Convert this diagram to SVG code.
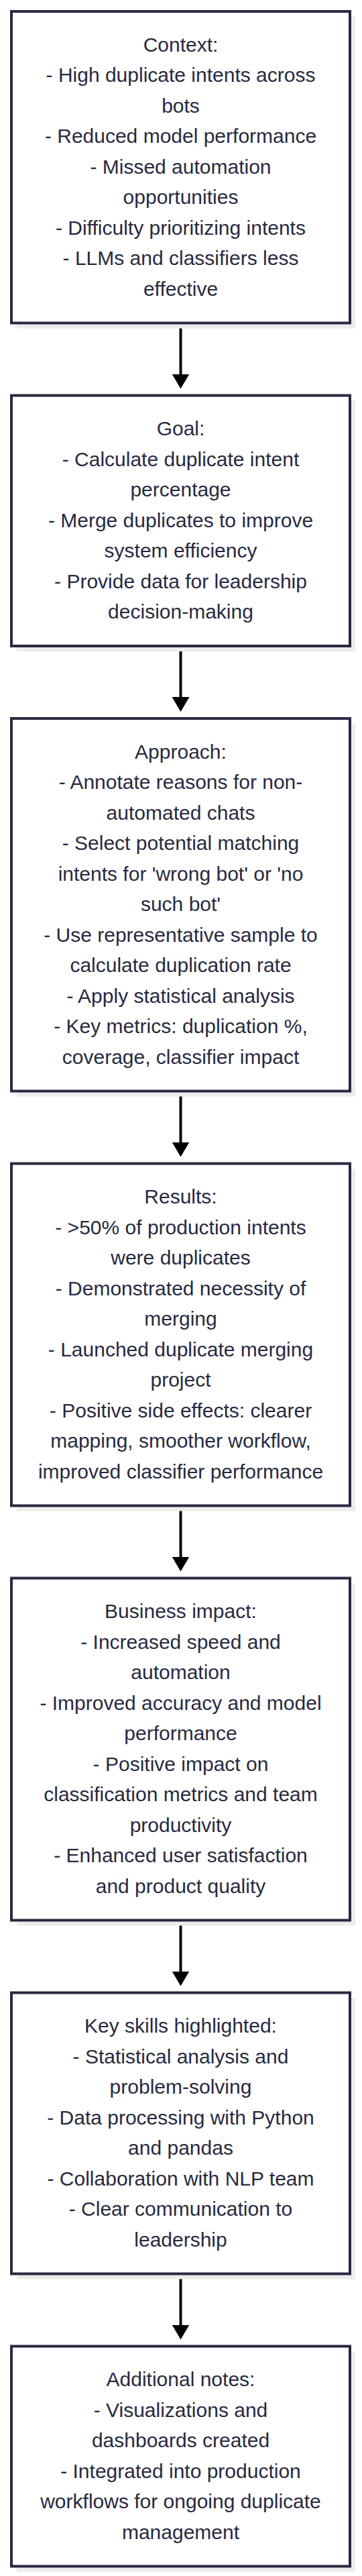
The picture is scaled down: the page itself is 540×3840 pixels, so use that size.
<svg xmlns="http://www.w3.org/2000/svg" width="540" height="3840" viewBox="0 0 540 3840">
<style>
.shadow{fill:#ececec;stroke:none}
.box{fill:#ffffff;stroke:#272a40;stroke-width:4}
.lbl{font-family:"Liberation Sans",Arial,sans-serif;font-size:30px;fill:#272a40;text-anchor:middle}
.edge{stroke:#000000;stroke-width:4;fill:none;marker-end:url(#arr)}
</style>
<defs>
<marker id="arr" markerUnits="userSpaceOnUse" viewBox="0 0 22 26" markerWidth="22" markerHeight="26" refX="4" refY="13" orient="auto">
<path d="M0,0 L22,13 L0,26 Z" fill="#000000"/>
</marker>
</defs>
<rect width="540" height="3840" fill="#ffffff"/>
<g id="connectors">
<line class="edge" x1="269.5" y1="483.5" x2="269.5" y2="561.5"/>
<line class="edge" x1="269.5" y1="965" x2="269.5" y2="1043"/>
<line class="edge" x1="269.5" y1="1628.5" x2="269.5" y2="1706.5"/>
<line class="edge" x1="269.5" y1="2246.5" x2="269.5" y2="2324.5"/>
<line class="edge" x1="269.5" y1="2864.5" x2="269.5" y2="2942.5"/>
<line class="edge" x1="269.5" y1="3391.5" x2="269.5" y2="3469.5"/>
</g>
<g id="context">
<rect class="shadow" x="25" y="25" width="505" height="464.5"/>
<rect class="box" x="17" y="17" width="505" height="464.5"/>
<text class="lbl" y="76.5"><tspan x="269.5">Context:</tspan><tspan x="269.5" dy="45.5">- High duplicate intents across</tspan><tspan x="269.5" dy="45.5">bots</tspan><tspan x="269.5" dy="45.5">- Reduced model performance</tspan><tspan x="269.5" dy="45.5">- Missed automation</tspan><tspan x="269.5" dy="45.5">opportunities</tspan><tspan x="269.5" dy="45.5">- Difficulty prioritizing intents</tspan><tspan x="269.5" dy="45.5">- LLMs and classifiers less</tspan><tspan x="269.5" dy="45.5">effective</tspan></text>
</g>
<g id="goal">
<rect class="shadow" x="25" y="597.5" width="505" height="373.5"/>
<rect class="box" x="17" y="589.5" width="505" height="373.5"/>
<text class="lbl" y="649"><tspan x="269.5">Goal:</tspan><tspan x="269.5" dy="45.5">- Calculate duplicate intent</tspan><tspan x="269.5" dy="45.5">percentage</tspan><tspan x="269.5" dy="45.5">- Merge duplicates to improve</tspan><tspan x="269.5" dy="45.5">system efficiency</tspan><tspan x="269.5" dy="45.5">- Provide data for leadership</tspan><tspan x="269.5" dy="45.5">decision-making</tspan></text>
</g>
<g id="approach">
<rect class="shadow" x="25" y="1079" width="505" height="555.5"/>
<rect class="box" x="17" y="1071" width="505" height="555.5"/>
<text class="lbl" y="1130.5"><tspan x="269.5">Approach:</tspan><tspan x="269.5" dy="45.5">- Annotate reasons for non-</tspan><tspan x="269.5" dy="45.5">automated chats</tspan><tspan x="269.5" dy="45.5">- Select potential matching</tspan><tspan x="269.5" dy="45.5">intents for 'wrong bot' or 'no</tspan><tspan x="269.5" dy="45.5">such bot'</tspan><tspan x="269.5" dy="45.5">- Use representative sample to</tspan><tspan x="269.5" dy="45.5">calculate duplication rate</tspan><tspan x="269.5" dy="45.5">- Apply statistical analysis</tspan><tspan x="269.5" dy="45.5">- Key metrics: duplication %,</tspan><tspan x="269.5" dy="45.5">coverage, classifier impact</tspan></text>
</g>
<g id="results">
<rect class="shadow" x="25" y="1742.5" width="505" height="510"/>
<rect class="box" x="17" y="1734.5" width="505" height="510"/>
<text class="lbl" y="1794"><tspan x="269.5">Results:</tspan><tspan x="269.5" dy="45.5">- &gt;50% of production intents</tspan><tspan x="269.5" dy="45.5">were duplicates</tspan><tspan x="269.5" dy="45.5">- Demonstrated necessity of</tspan><tspan x="269.5" dy="45.5">merging</tspan><tspan x="269.5" dy="45.5">- Launched duplicate merging</tspan><tspan x="269.5" dy="45.5">project</tspan><tspan x="269.5" dy="45.5">- Positive side effects: clearer</tspan><tspan x="269.5" dy="45.5">mapping, smoother workflow,</tspan><tspan x="269.5" dy="45.5">improved classifier performance</tspan></text>
</g>
<g id="business_impact">
<rect class="shadow" x="25" y="2360.5" width="505" height="510"/>
<rect class="box" x="17" y="2352.5" width="505" height="510"/>
<text class="lbl" y="2412"><tspan x="269.5">Business impact:</tspan><tspan x="269.5" dy="45.5">- Increased speed and</tspan><tspan x="269.5" dy="45.5">automation</tspan><tspan x="269.5" dy="45.5">- Improved accuracy and model</tspan><tspan x="269.5" dy="45.5">performance</tspan><tspan x="269.5" dy="45.5">- Positive impact on</tspan><tspan x="269.5" dy="45.5">classification metrics and team</tspan><tspan x="269.5" dy="45.5">productivity</tspan><tspan x="269.5" dy="45.5">- Enhanced user satisfaction</tspan><tspan x="269.5" dy="45.5">and product quality</tspan></text>
</g>
<g id="key_skills">
<rect class="shadow" x="25" y="2978.5" width="505" height="419"/>
<rect class="box" x="17" y="2970.5" width="505" height="419"/>
<text class="lbl" y="3030"><tspan x="269.5">Key skills highlighted:</tspan><tspan x="269.5" dy="45.5">- Statistical analysis and</tspan><tspan x="269.5" dy="45.5">problem-solving</tspan><tspan x="269.5" dy="45.5">- Data processing with Python</tspan><tspan x="269.5" dy="45.5">and pandas</tspan><tspan x="269.5" dy="45.5">- Collaboration with NLP team</tspan><tspan x="269.5" dy="45.5">- Clear communication to</tspan><tspan x="269.5" dy="45.5">leadership</tspan></text>
</g>
<g id="additional_notes">
<rect class="shadow" x="25" y="3505.5" width="505" height="328"/>
<rect class="box" x="17" y="3497.5" width="505" height="328"/>
<text class="lbl" y="3557"><tspan x="269.5">Additional notes:</tspan><tspan x="269.5" dy="45.5">- Visualizations and</tspan><tspan x="269.5" dy="45.5">dashboards created</tspan><tspan x="269.5" dy="45.5">- Integrated into production</tspan><tspan x="269.5" dy="45.5">workflows for ongoing duplicate</tspan><tspan x="269.5" dy="45.5">management</tspan></text>
</g>
</svg>
